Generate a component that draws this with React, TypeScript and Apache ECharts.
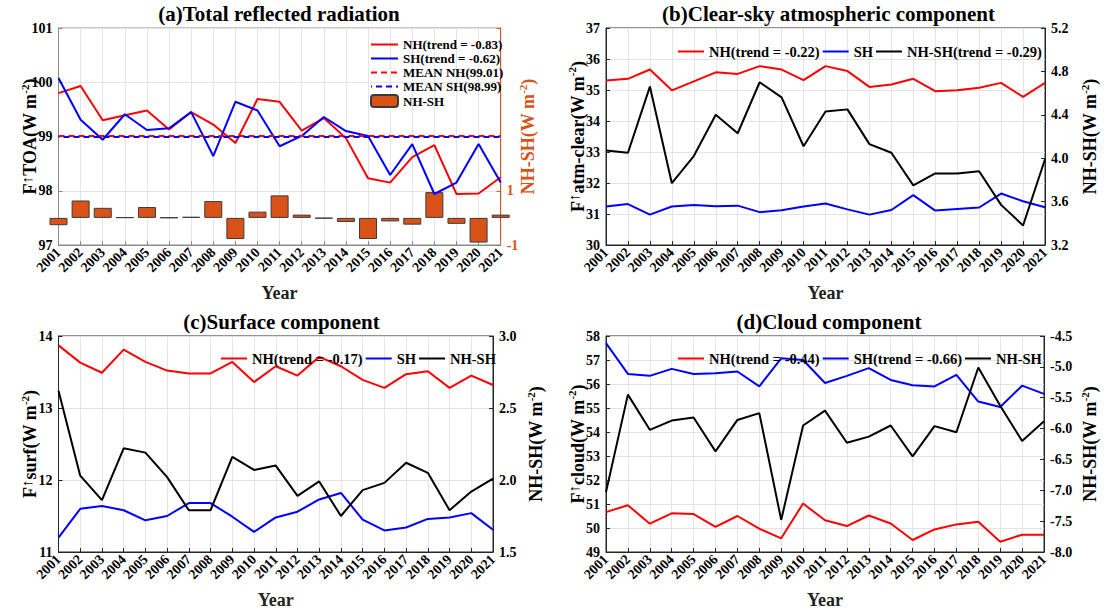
import React, { useEffect, useRef } from 'react';
import * as echarts from 'echarts';

const YEARS = ['2001', '2002', '2003', '2004', '2005', '2006', '2007', '2008', '2009', '2010', '2011', '2012', '2013', '2014', '2015', '2016', '2017', '2018', '2019', '2020', '2021'];

// (a) Total reflected radiation
const A_NH = [99.80, 99.93, 99.30, 99.39, 99.48, 99.13, 99.45, 99.22, 98.88, 99.69, 99.64, 99.11, 99.34, 98.97, 98.23, 98.15, 98.62, 98.84, 97.94, 97.95, 98.25];
const A_SH = [100.08, 99.31, 98.94, 99.41, 99.12, 99.15, 99.45, 98.64, 99.64, 99.48, 98.82, 99.01, 99.36, 99.10, 99.01, 98.29, 98.86, 97.94, 98.15, 98.86, 98.15];
const A_DIFF = [-0.27, 0.64, 0.37, 0.02, 0.40, 0.01, 0.04, 0.62, -0.78, 0.23, 0.83, 0.12, -0.02, -0.15, -0.78, -0.13, -0.25, 0.95, -0.22, -0.91, 0.12];
const A_MEAN_NH = 99.01;
const A_MEAN_SH = 98.99;

// (b) Clear-sky atmospheric component
const B_NH = [35.31, 35.36, 35.66, 34.99, 35.28, 35.57, 35.52, 35.77, 35.66, 35.32, 35.77, 35.61, 35.10, 35.18, 35.36, 34.96, 34.99, 35.07, 35.23, 34.78, 35.23];
const B_SH = [31.24, 31.32, 30.98, 31.24, 31.29, 31.25, 31.27, 31.06, 31.12, 31.24, 31.34, 31.15, 30.98, 31.13, 31.61, 31.11, 31.16, 31.21, 31.66, 31.41, 31.22];
const B_DIFF = [4.07, 4.05, 4.66, 3.77, 4.02, 4.40, 4.23, 4.70, 4.56, 4.11, 4.43, 4.45, 4.13, 4.05, 3.75, 3.86, 3.86, 3.88, 3.57, 3.38, 3.99];

// (c) Surface component
const C_NH = [13.87, 13.63, 13.49, 13.81, 13.64, 13.52, 13.48, 13.48, 13.64, 13.36, 13.58, 13.45, 13.71, 13.58, 13.39, 13.28, 13.47, 13.51, 13.28, 13.45, 13.32];
const C_SH = [11.20, 11.60, 11.64, 11.58, 11.44, 11.50, 11.68, 11.68, 11.49, 11.28, 11.48, 11.56, 11.73, 11.82, 11.45, 11.30, 11.34, 11.46, 11.48, 11.54, 11.31];
const C_DIFF = [2.62, 2.03, 1.86, 2.22, 2.19, 2.02, 1.79, 1.79, 2.16, 2.07, 2.10, 1.89, 1.99, 1.75, 1.93, 1.98, 2.12, 2.05, 1.79, 1.92, 2.01];

// (d) Cloud component
const D_NH = [50.66, 50.95, 50.18, 50.61, 50.58, 50.05, 50.50, 49.97, 49.57, 51.02, 50.32, 50.08, 50.52, 50.19, 49.50, 49.94, 50.15, 50.26, 49.43, 49.72, 49.72];
const D_SH = [57.70, 56.42, 56.34, 56.63, 56.42, 56.45, 56.52, 55.90, 57.07, 57.00, 56.04, 56.34, 56.66, 56.17, 55.95, 55.90, 56.38, 55.27, 55.04, 55.93, 55.59];
const D_DIFF = [-7.03, -5.45, -6.02, -5.87, -5.82, -6.37, -5.86, -5.75, -7.48, -5.95, -5.71, -6.23, -6.13, -5.95, -6.45, -5.96, -6.06, -5.01, -5.63, -6.20, -5.88];

const FONT = '"Liberation Serif", "Times New Roman", Times, serif';
const RED = '#FF0000';
const BLUE = '#0000FF';
const BLACK = '#000000';
const ORANGE = '#D95319';
const GRIDC = '#e4e4e4';
const DARK = '#262626';

function rich(color: string) {
  return {
    b: { fontFamily: FONT, fontWeight: 'bold', fontSize: 18, color, lineHeight: 22 },
    s: { fontFamily: FONT, fontWeight: 'bold', fontSize: 11, color, lineHeight: 12, verticalAlign: 'top' },
    a: { fontFamily: FONT, fontWeight: 'normal', fontSize: 15, color, lineHeight: 14, verticalAlign: 'top' },
  };
}
const fluxName = (sub: string) => `{b|F}{a|↑}{b|${sub}(W m}{s|-2}{b|)}`;
const diffName = '{b|NH-SH(W m}{s|-2}{b|)}';

function xAxisCfg(boxColor: string) {
  return {
    type: 'category',
    data: YEARS,
    boundaryGap: false,
    axisLine: { show: true, onZero: false, lineStyle: { color: boxColor, width: 1 } },
    axisTick: { show: true, inside: true, length: 4, interval: 0, lineStyle: { color: boxColor } },
    axisLabel: { interval: 0, rotate: 45, margin: 5, fontFamily: FONT, fontWeight: 'bold', fontSize: 14, color: '#000' },
    splitLine: { show: true, interval: 0, lineStyle: { color: GRIDC, width: 1 } },
    name: 'Year',
    nameLocation: 'middle',
    nameGap: 39,
    nameMoveOverlap: false,
    nameTextStyle: { fontFamily: FONT, fontWeight: 'bold', fontSize: 18, color: '#222' },
  };
}

function leftY(min: number, max: number, interval: number, name: string, boxColor: string, nameGap: number) {
  return {
    type: 'value',
    position: 'left',
    min, max, interval,
    axisLine: { show: true, lineStyle: { color: boxColor } },
    axisTick: { show: true, inside: true, length: 4, lineStyle: { color: boxColor } },
    axisLabel: { margin: 6, fontFamily: FONT, fontWeight: 'bold', fontSize: 14, color: '#000' },
    splitLine: { show: true, lineStyle: { color: GRIDC, width: 1 } },
    name,
    nameLocation: 'middle',
    nameRotate: 90,
    nameGap,
    nameMoveOverlap: false,
    nameTextStyle: { fontFamily: FONT, fontWeight: 'bold', fontSize: 18, color: '#000', rich: rich('#000') },
  };
}

function rightY(min: number, max: number, interval: number, color: string, labelColor: string, nameGap: number, formatter: (v: number) => string) {
  return {
    type: 'value',
    position: 'right',
    min, max, interval,
    axisLine: { show: true, lineStyle: { color } },
    axisTick: { show: true, inside: true, length: 4, lineStyle: { color } },
    axisLabel: { margin: 6, fontFamily: FONT, fontWeight: 'bold', fontSize: 14, color: labelColor, formatter },
    splitLine: { show: false },
    name: diffName,
    nameLocation: 'middle',
    nameRotate: 90,
    nameGap,
    nameMoveOverlap: false,
    nameTextStyle: { fontFamily: FONT, fontWeight: 'bold', fontSize: 18, color: labelColor, rich: rich(labelColor) },
  };
}

function lineSeries(name: string, data: number[], color: string, yAxisIndex = 0, extra: any = {}) {
  return {
    name, type: 'line', data, yAxisIndex, symbol: 'none',
    lineStyle: { color, width: 2, ...extra },
    itemStyle: { color },
    emphasis: { disabled: true },
  };
}

function titleGraphic(text: string, x: number, y: number) {
  return {
    type: 'text', x, y,
    style: { text, fontFamily: FONT, fontWeight: 'bold', fontSize: 21, fill: '#000', align: 'center', verticalAlign: 'middle' },
  };
}

// legend entries for line series: hide the symbol drawn on the legend line
const lineItem = (name: string) => ({ name, itemStyle: { opacity: 0 } });

function legendCfg(left: number, top: number, data: any[], fontSize: number, vertical = false) {
  return {
    orient: vertical ? 'vertical' : 'horizontal',
    left, top,
    itemWidth: vertical ? 27 : 26,
    itemHeight: vertical ? 12 : 14,
    itemGap: vertical ? 1 : 2,
    selectedMode: false,
    textStyle: { fontFamily: FONT, fontWeight: 'bold', fontSize, color: '#000' },
    data,
  };
}

const fmt1 = (v: number) => v.toFixed(1);

const optionA = {
  animation: false,
  grid: { left: 58.5, top: 28, width: 442.2, height: 217.5, show: true, borderColor: '#8a8a8a', borderWidth: 1, backgroundColor: 'transparent' },
  xAxis: xAxisCfg('#8a8a8a'),
  yAxis: [
    leftY(97, 101, 1, fluxName('TOA'), '#8a8a8a', 17.5),
    rightY(-1, 7, 2, ORANGE, ORANGE, 16.5, (v: number) => (v <= 1 ? String(Math.round(v)) : '')),
  ],
  legend: legendCfg(365, 33, [lineItem('NH(trend = -0.83)'), lineItem('SH(trend = -0.62)'), lineItem('MEAN NH(99.01)'), lineItem('MEAN SH(98.99)'), 'NH-SH'], 13, true),
  series: [
    {
      name: 'NH-SH', type: 'bar', yAxisIndex: 1, data: A_DIFF, barWidth: 18, clip: true,
      itemStyle: { color: ORANGE, borderColor: '#3a3a3a', borderWidth: 1 },
      emphasis: { disabled: true },
    },
    lineSeries('NH(trend = -0.83)', A_NH, RED),
    lineSeries('SH(trend = -0.62)', A_SH, BLUE),
    lineSeries('MEAN NH(99.01)', YEARS.map(() => A_MEAN_NH), RED, 0, { type: [6, 4] }),
    lineSeries('MEAN SH(98.99)', YEARS.map(() => A_MEAN_SH), BLUE, 0, { type: [6, 4], dashOffset: 5 }),
  ],
  graphic: [titleGraphic('(a)Total reflected radiation', 279, 14)],
};

const optionB = {
  animation: false,
  grid: { left: 76, top: 28, width: 445, height: 217.5, show: true, borderColor: DARK, borderWidth: 1, backgroundColor: 'transparent' },
  xAxis: xAxisCfg(DARK),
  yAxis: [
    leftY(30, 37, 1, fluxName('atm-clear'), DARK, 17.5),
    rightY(3.2, 5.2, 0.4, DARK, '#000', 34, fmt1),
  ],
  legend: legendCfg(142, 39, [lineItem('NH(trend = -0.22)'), lineItem('SH'), lineItem('NH-SH(trend = -0.29)')], 14.5),
  series: [
    lineSeries('NH(trend = -0.22)', B_NH, RED),
    lineSeries('SH', B_SH, BLUE),
    lineSeries('NH-SH(trend = -0.29)', B_DIFF, BLACK, 1),
  ],
  graphic: [titleGraphic('(b)Clear-sky atmospheric component', 298.5, 14)],
};

const optionC = {
  animation: false,
  grid: { left: 58.5, top: 29, width: 443, height: 216.7, show: true, borderColor: DARK, borderWidth: 1, backgroundColor: 'transparent' },
  xAxis: xAxisCfg(DARK),
  yAxis: [
    leftY(11, 14, 1, fluxName('surf'), DARK, 17.5),
    rightY(1.5, 3.0, 0.5, DARK, '#000', 32, fmt1),
  ],
  legend: legendCfg(215, 39, [lineItem('NH(trend = -0.17)'), lineItem('SH'), lineItem('NH-SH')], 14.5),
  series: [
    lineSeries('NH(trend = -0.17)', C_NH, RED),
    lineSeries('SH', C_SH, BLUE),
    lineSeries('NH-SH', C_DIFF, BLACK, 1),
  ],
  graphic: [titleGraphic('(c)Surface component', 281.5, 15)],
};

const optionD = {
  animation: false,
  grid: { left: 76, top: 29, width: 445, height: 216.7, show: true, borderColor: DARK, borderWidth: 1, backgroundColor: 'transparent' },
  xAxis: xAxisCfg(DARK),
  yAxis: [
    leftY(49, 58, 1, fluxName('cloud'), DARK, 17.5),
    rightY(-8, -4.5, 0.5, DARK, '#000', 35, fmt1),
  ],
  legend: legendCfg(142, 39, [lineItem('NH(trend = -0.44)'), lineItem('SH(trend = -0.66)'), lineItem('NH-SH')], 14.5),
  series: [
    lineSeries('NH(trend = -0.44)', D_NH, RED),
    lineSeries('SH(trend = -0.66)', D_SH, BLUE),
    lineSeries('NH-SH', D_DIFF, BLACK, 1),
  ],
  graphic: [titleGraphic('(d)Cloud component', 299, 15)],
};

function Chart({ option, style }: { option: any; style: React.CSSProperties }) {
  const ref = useRef<HTMLDivElement>(null);
  useEffect(() => {
    const chart = echarts.init(ref.current as HTMLDivElement, null, { renderer: 'svg' });
    chart.setOption(option);
    return () => chart.dispose();
  }, [option]);
  return <div ref={ref} style={{ position: 'absolute', ...style }} />;
}

export default function App() {
  return (
    <div style={{ position: 'absolute', left: 0, top: 0, width: 1107, height: 614, background: '#fff', overflow: 'hidden' }}>
      <Chart option={optionA} style={{ left: 0, top: 0, width: 553, height: 307 }} />
      <Chart option={optionB} style={{ left: 530, top: 0, width: 577, height: 307 }} />
      <Chart option={optionC} style={{ left: 0, top: 307, width: 553, height: 307 }} />
      <Chart option={optionD} style={{ left: 530, top: 307, width: 577, height: 307 }} />
    </div>
  );
}
